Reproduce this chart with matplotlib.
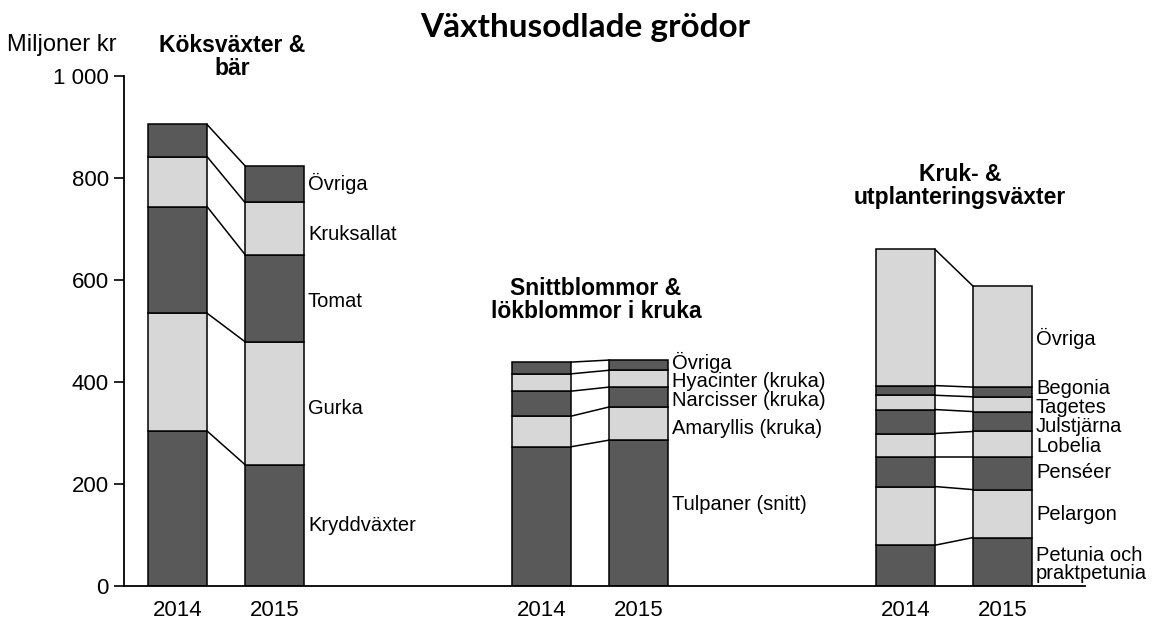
import matplotlib
matplotlib.use("Agg")
from matplotlib import pyplot as plt

plt.rcParams['font.family'] = ['Liberation Sans', 'DejaVu Sans']

years = ["2014", "2015"]

group_titles = ["Köksväxter &\nbär", "Snittblommor &\nlökblommor i kruka", "Kruk- &\nutplanteringsväxter"]

# segments listed bottom to top, values in miljoner kr
koks_labels = ["Kryddväxter", "Gurka", "Tomat", "Kruksallat", "Övriga"]
koks_2014 = [304, 231, 209, 98, 63]
koks_2015 = [238, 241, 171, 102, 72]

snitt_labels = ["Tulpaner (snitt)", "Amaryllis (kruka)", "Narcisser (kruka)", "Hyacinter (kruka)", "Övriga"]
snitt_2014 = [273, 60, 49, 34, 23]
snitt_2015 = [286, 65, 39, 33, 20]

kruk_labels = ["Petunia och\npraktpetunia", "Pelargon", "Penséer", "Lobelia", "Julstjärna",
               "Tagetes", "Begonia", "Övriga"]
kruk_2014 = [80, 115, 58, 46, 47, 28, 19, 267]
kruk_2015 = [95, 94, 64, 50, 39, 29, 19, 198]

groups = [
    (koks_labels, koks_2014, koks_2015),
    (snitt_labels, snitt_2014, snitt_2015),
    (kruk_labels, kruk_2014, kruk_2015),
]

# label nudges (data units) where labels would collide
nudges = [
    [0, -10, -6, -11, 2],
    [17, -10, -6, -6, 6],
    [-5, -1, 2, -4, -9, -7, 6, -3],
]
title_offsets = [88, 72, 80]

dark = "#595959"
light = "#d7d7d7"

fig = plt.figure(figsize=(11.59, 6.3), dpi=100)
ax = fig.add_axes([124 / 1159, 44 / 630, 961 / 1159, 510 / 630])

width = 59
first_x = 53.5
group_step = 364
pair_step = 97

xticks = []
for g, (labels, v14, v15) in enumerate(groups):
    x14 = first_x + g * group_step
    x15 = x14 + pair_step
    xticks += [x14, x15]
    b14 = 0
    b15 = 0
    for i, (a, b) in enumerate(zip(v14, v15)):
        col = dark if i % 2 == 0 else light
        ax.bar(x14, a, width, bottom=b14, color=col, edgecolor="black", linewidth=1.1, zorder=2)
        ax.bar(x15, b, width, bottom=b15, color=col, edgecolor="black", linewidth=1.1, zorder=2)
        # label at middle of 2015 segment
        ax.text(x15 + width / 2 + 4, b15 + b / 2 + nudges[g][i], labels[i], fontsize=14.5,
                va="center", ha="left", linespacing=0.95)
        b14 += a
        b15 += b
        ax.plot([x14 + width / 2, x15 - width / 2], [b14, b15], color="black", lw=1.1, zorder=3)
    top = max(sum(v14), sum(v15))
    ax.text((x14 + x15) / 2 + 6, top + title_offsets[g], group_titles[g], fontsize=16.5,
            fontweight="bold", ha="center", va="bottom", linespacing=1.0)

ax.set_xlim(0, 961)
ax.set_ylim(0, 1000)
ax.set_yticks([0, 200, 400, 600, 800, 1000])
ax.set_yticklabels(["0", "200", "400", "600", "800", "1 000"], fontsize=16)
ax.set_xticks(xticks)
ax.set_xticklabels(years * 3, fontsize=16)
ax.tick_params(axis="x", length=0, pad=10)
ax.tick_params(axis="y", length=7, width=1.2, pad=4)
ax.spines["top"].set_visible(False)
ax.spines["right"].set_visible(False)
ax.spines["left"].set_linewidth(1.3)
ax.spines["bottom"].set_linewidth(1.3)

fig.text(7 / 1159, 1 - 45 / 630, "Miljoner kr", fontsize=17, ha="left", va="center")
fig.text(585 / 1159, 1 - 27 / 630, "Växthusodlade grödor", fontsize=24, fontweight="bold",
         family=["Lato", "DejaVu Sans"], ha="center", va="center")

fig.savefig("out.png", dpi=100)
